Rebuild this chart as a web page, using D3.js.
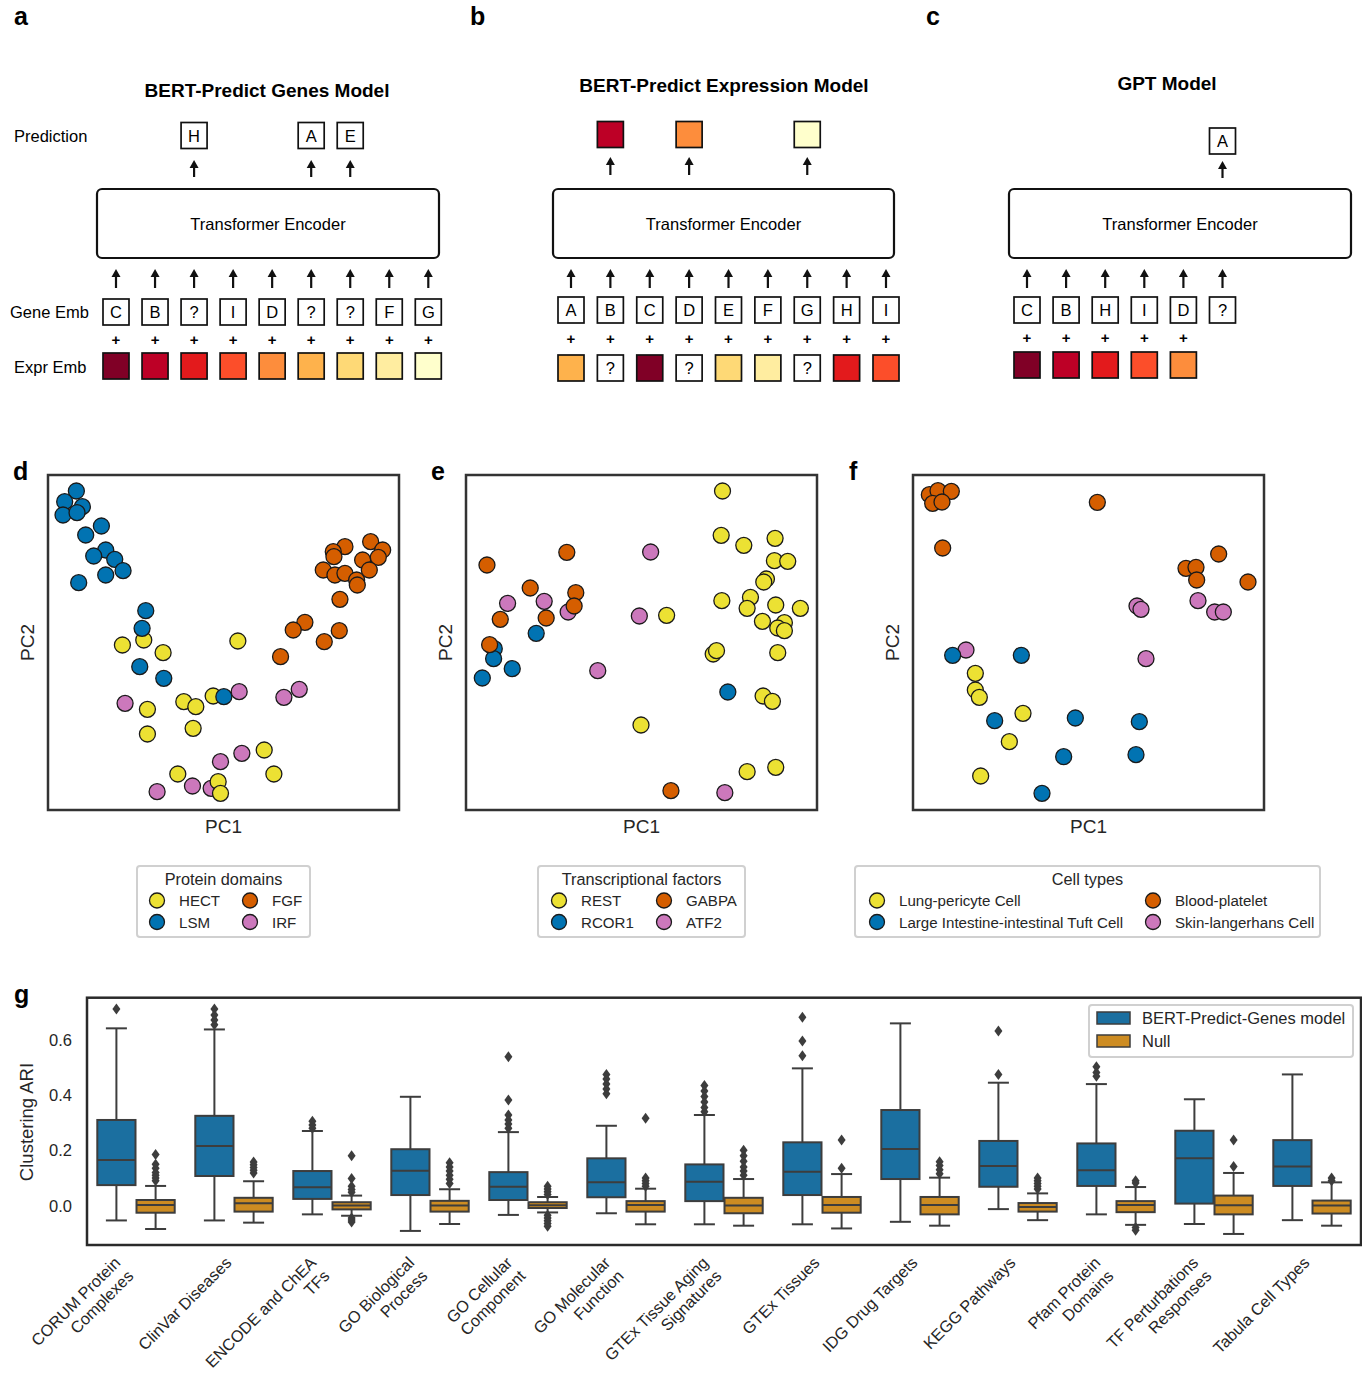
<!DOCTYPE html>
<html>
<head>
<meta charset="utf-8">
<script src="https://cdn.jsdelivr.net/npm/d3@7"></script>
<style>
  body { margin: 0; background: #fff; }
  text { font-family: "Liberation Sans", Arial, Helvetica, sans-serif; }
</style>
</head>
<body>
<script>
// ---------- panels a-c : model schematics ----------
const genesA = ['C', 'B', '?', 'I', 'D', '?', '?', 'F', 'G'];
const exprA = ['#800026', '#bd0026', '#e31a1c', '#fc4e2a', '#fd8d3c', '#feb24c', '#fed976', '#ffeda0', '#ffffcc'];
const predPosA = [2, 5, 6];
const predA = ['H', 'A', 'E'];

const genesB = ['A', 'B', 'C', 'D', 'E', 'F', 'G', 'H', 'I'];
const exprB = ['#feb24c', '?', '#800026', '?', '#fed976', '#ffeda0', '?', '#e31a1c', '#fc4e2a'];
const predPosB = [1, 3, 6];
const predB = ['#bd0026', '#fd8d3c', '#ffffcc'];

const genesC = ['C', 'B', 'H', 'I', 'D', '?'];
const exprC = ['#800026', '#bd0026', '#e31a1c', '#fc4e2a', '#fd8d3c'];
const predPosC = [5];
const predC = ['A'];

// ---------- panels d-f : PCA scatter (arbitrary PC units) ----------
const dHECT = [[22.3,49.5],[28.7,51.0],[34.5,47.2],[56.9,50.7],[29.8,30.2],[40.7,32.5],[44.3,31.0],[49.5,34.2],[43.5,24.5],[29.8,22.8],[38.9,10.8],[51.0,8.5],[51.7,5.0],[64.8,18.0],[67.7,10.8]];
const dLSM = [[8.5,95.7],[5.0,92.5],[10.3,91.0],[4.5,88.5],[8.7,89.2],[16.0,85.2],[11.3,82.5],[17.3,78.0],[13.7,76.2],[20.0,75.2],[22.5,71.8],[17.3,70.5],[9.2,68.2],[29.3,59.8],[28.2,54.5],[27.5,43.0],[34.7,39.5],[52.7,34.0]];
const dFGF = [[96.7,80.5],[89.0,79.0],[100.3,78.0],[85.5,77.5],[85.7,76.0],[94.3,75.0],[99.0,75.8],[82.5,72.0],[86.0,70.5],[89.0,71.0],[92.5,69.0],[92.7,67.5],[96.3,72.0],[87.5,63.2],[77.0,56.3],[73.5,54.0],[87.3,53.8],[82.8,50.5],[69.7,46.0]];
const dIRF = [[23.1,32.0],[57.3,35.5],[70.7,33.8],[75.3,36.2],[32.7,5.5],[43.3,7.2],[48.9,6.5],[51.7,14.5],[58.1,17.0]];

const eREST = [[77.1,95.7],[76.7,82.4],[83.5,79.4],[92.9,81.5],[92.7,74.8],[96.7,74.6],[90.3,69.3],[89.5,68.4],[76.9,62.8],[85.5,63.8],[84.5,60.5],[93.1,61.5],[100.5,60.5],[89.1,56.6],[95.7,56.2],[93.7,54.6],[95.7,53.8],[60.3,58.4],[74.3,46.8],[75.3,47.8],[93.7,47.2],[89.3,34.2],[92.1,32.6],[52.6,25.5],[84.5,11.5],[93.1,12.8]];
const eRCOR1 = [[8.5,48.4],[8.3,45.4],[13.9,42.4],[4.9,39.6],[21.1,53.0],[78.7,35.4]];
const eGABPA = [[6.3,73.5],[30.3,77.3],[19.3,66.6],[33.0,65.2],[32.5,61.2],[10.3,57.2],[24.1,57.6],[7.1,49.6],[61.6,5.8]];
const eATF2 = [[12.5,62.0],[23.5,62.6],[30.7,59.4],[55.5,77.4],[52.1,58.2],[39.6,41.8],[77.8,5.2]];

const fLung = [[18.7,41.0],[18.7,36.0],[19.9,33.8],[33.0,29.0],[28.9,20.5],[20.3,10.2]];
const fTuft = [[11.9,46.4],[32.5,46.4],[24.5,26.8],[48.7,27.6],[67.9,26.5],[45.2,16.0],[66.9,16.6],[38.7,5.0]];
const fPlatelet = [[4.9,94.6],[7.5,95.8],[11.5,95.6],[5.9,92.0],[8.7,92.4],[8.9,78.6],[55.3,92.3],[91.7,76.8],[81.9,72.5],[84.9,72.8],[85.1,69.0],[100.5,68.4]];
const fLangerhans = [[67.2,61.2],[68.4,60.2],[85.5,62.8],[90.5,59.4],[93.1,59.4],[15.9,48.0],[69.9,45.4]];

const legendD = ['HECT', 'LSM', 'FGF', 'IRF'];
const legendE = ['REST', 'RCOR1', 'GABPA', 'ATF2'];
const legendF = ['Lung-pericyte Cell', 'Large Intestine-intestinal Tuft Cell', 'Blood-platelet', 'Skin-langerhans Cell'];
const pcColors = ['#ece133', '#0173b2', '#d55e00', '#cc78bc'];

// ---------- panel g : clustering ARI boxplots ----------
const categories = ['CORUM Protein\nComplexes', 'ClinVar Diseases', 'ENCODE and ChEA\nTFs', 'GO Biological\nProcess',
  'GO Cellular\nComponent', 'GO Molecular\nFunction', 'GTEx Tissue Aging\nSignatures', 'GTEx Tissues',
  'IDG Drug Targets', 'KEGG Pathways', 'Pfam Protein\nDomains', 'TF Perturbations\nResponses', 'Tabula Cell Types'];
// [whisker low, q1, median, q3, whisker high]
const modelStats = [
  [-0.054, 0.074, 0.165, 0.310, 0.642],
  [-0.054, 0.107, 0.216, 0.325, 0.638],
  [-0.032, 0.024, 0.066, 0.125, 0.270],
  [-0.092, 0.038, 0.126, 0.204, 0.394],
  [-0.034, 0.020, 0.068, 0.121, 0.266],
  [-0.028, 0.030, 0.084, 0.171, 0.289],
  [-0.068, 0.016, 0.086, 0.149, 0.328],
  [-0.068, 0.038, 0.122, 0.229, 0.497],
  [-0.059, 0.096, 0.205, 0.346, 0.660],
  [-0.013, 0.068, 0.143, 0.234, 0.445],
  [-0.032, 0.071, 0.128, 0.225, 0.440],
  [-0.067, 0.007, 0.171, 0.271, 0.385],
  [-0.053, 0.071, 0.141, 0.237, 0.475]
];
const nullStats = [
  [-0.085, -0.026, 0.002, 0.020, 0.071],
  [-0.062, -0.022, 0.008, 0.028, 0.088],
  [-0.037, -0.014, 0.000, 0.012, 0.036],
  [-0.067, -0.022, 0.000, 0.017, 0.059],
  [-0.025, -0.009, 0.001, 0.012, 0.031],
  [-0.068, -0.022, 0.002, 0.016, 0.061],
  [-0.073, -0.028, 0.000, 0.028, 0.096],
  [-0.083, -0.026, 0.002, 0.031, 0.114],
  [-0.073, -0.032, 0.002, 0.031, 0.101],
  [-0.053, -0.022, -0.005, 0.009, 0.044],
  [-0.070, -0.024, 0.002, 0.016, 0.067],
  [-0.103, -0.032, 0.001, 0.036, 0.118],
  [-0.073, -0.029, 0.000, 0.018, 0.084]
];
const modelOutliers = [
  [0.712],
  [0.712, 0.690, 0.672, 0.655],
  [0.305, 0.292, 0.280],
  [],
  [0.539, 0.382, 0.328, 0.310, 0.295, 0.280],
  [0.475, 0.458, 0.440, 0.422, 0.405],
  [0.435, 0.415, 0.395, 0.375, 0.355, 0.340],
  [0.682, 0.596, 0.543],
  [],
  [0.632, 0.475],
  [0.503, 0.482, 0.468],
  [],
  []
];
const nullOutliers = [
  [0.185, 0.150, 0.135, 0.120, 0.110, 0.100, 0.090],
  [0.158, 0.148, 0.138, 0.128, 0.118],
  [0.180, 0.098, 0.070, 0.058, 0.048, -0.045, -0.052, -0.060],
  [0.155, 0.140, 0.125, 0.110, 0.095, 0.080],
  [0.070, 0.060, 0.050, 0.040, -0.035, -0.045, -0.055, -0.065, -0.075],
  [0.316, 0.100, 0.090, 0.080, 0.070],
  [0.200, 0.180, 0.160, 0.140, 0.125, 0.110],
  [0.237, 0.135],
  [0.159, 0.145, 0.130, 0.115],
  [0.100, 0.090, 0.080, 0.070, 0.060],
  [0.090, 0.082, -0.080, -0.090],
  [0.237, 0.141],
  [0.100, 0.090]
];
const yTicks = [0.0, 0.2, 0.4, 0.6];
const hueNames = ['BERT-Predict-Genes model', 'Null'];
const hueColors = ['#1b6fa0', '#cd8c22'];

const svg = d3.select('body').append('svg')
  .attr('width', 1362)
  .attr('height', 1375);

// panel letters
[['a', 14, 25], ['b', 470, 25], ['c', 926, 25], ['d', 13, 480], ['e', 431, 480], ['f', 849, 480], ['g', 14, 1003]]
  .forEach(function(p) {
    svg.append('text').text(p[0]).attr('x', p[1]).attr('y', p[2])
      .attr('font-size', 25).attr('font-weight', 'bold');
  });

function arrow(g, x, yTop, yBot) {
  g.append('line').attr('x1', x).attr('x2', x).attr('y1', yTop + 6).attr('y2', yBot)
    .attr('stroke', '#111').attr('stroke-width', 2.2);
  g.append('path')
    .attr('d', 'M' + x + ',' + yTop + ' L' + (x - 4.5) + ',' + (yTop + 8) + ' L' + (x + 4.5) + ',' + (yTop + 8) + ' Z')
    .attr('fill', '#111');
}

function tokenBox(g, cx, y, size, fill, label) {
  g.append('rect').attr('x', cx - size / 2).attr('y', y).attr('width', size).attr('height', size)
    .attr('fill', fill).attr('stroke', '#111').attr('stroke-width', 1.7);
  if (label) {
    g.append('text').text(label).attr('x', cx).attr('y', y + size / 2 + 6)
      .attr('text-anchor', 'middle').attr('font-size', 16.5);
  }
}

// layout: x scale over token index, plus vertical positions
function drawSchema(opt) {
  const g = svg.append('g');
  const x = d3.scaleLinear().domain([0, opt.n - 1]).range(opt.xr);
  const sz = 26;
  g.append('text').text(opt.title).attr('x', opt.titleX).attr('y', opt.titleY)
    .attr('text-anchor', 'middle').attr('font-size', 19).attr('font-weight', 'bold');
  g.append('rect').attr('x', opt.enc[0]).attr('y', 189).attr('width', opt.enc[1] - opt.enc[0]).attr('height', 69)
    .attr('rx', 5).attr('fill', 'none').attr('stroke', '#111').attr('stroke-width', 2.2);
  g.append('text').text('Transformer Encoder').attr('x', (opt.enc[0] + opt.enc[1]) / 2).attr('y', 230)
    .attr('text-anchor', 'middle').attr('font-size', 16.5);
  opt.genes.forEach(function(t, i) {
    arrow(g, x(i), 269, 288);
    tokenBox(g, x(i), opt.geneY, sz, '#fff', t);
  });
  opt.expr.forEach(function(c, i) {
    g.append('text').text('+').attr('x', x(i)).attr('y', opt.plusY + 5)
      .attr('text-anchor', 'middle').attr('font-size', 15).attr('font-weight', 'bold');
    if (c === '?') tokenBox(g, x(i), opt.exprY, sz, '#fff', '?');
    else tokenBox(g, x(i), opt.exprY, sz, c, null);
  });
  opt.predPos.forEach(function(p, k) {
    const v = opt.pred[k];
    arrow(g, x(p), opt.arrowTop[0], opt.arrowTop[1]);
    if (v.charAt(0) === '#') tokenBox(g, x(p), opt.predY, sz, v, null);
    else tokenBox(g, x(p), opt.predY, sz, '#fff', v);
  });
}

drawSchema({ n: 9, xr: [116, 428.3], genes: genesA, expr: exprA, predPos: predPosA, pred: predA,
  title: 'BERT-Predict Genes Model', titleX: 267, titleY: 97, enc: [97, 439],
  geneY: 299, plusY: 340, exprY: 353, predY: 122.5, arrowTop: [160, 177] });
drawSchema({ n: 9, xr: [571, 886], genes: genesB, expr: exprB, predPos: predPosB, pred: predB,
  title: 'BERT-Predict Expression Model', titleX: 724, titleY: 92, enc: [553, 894],
  geneY: 297, plusY: 339, exprY: 355, predY: 121.5, arrowTop: [157, 175] });
drawSchema({ n: 6, xr: [1027, 1222.5], genes: genesC, expr: exprC, predPos: predPosC, pred: predC,
  title: 'GPT Model', titleX: 1167, titleY: 90, enc: [1009, 1351],
  geneY: 297, plusY: 338, exprY: 352, predY: 128, arrowTop: [161, 178] });

[['Prediction', 14, 142], ['Gene Emb', 10, 318], ['Expr Emb', 14, 373]].forEach(function(r) {
  svg.append('text').text(r[0]).attr('x', r[1]).attr('y', r[2]).attr('font-size', 16.5);
});

// ---------- scatter panels ----------
function drawScatter(left, xDom, yDom, series) {
  const top = 475, w = 351, h = 335;
  const g = svg.append('g');
  const x = d3.scaleLinear().domain(xDom).range([left, left + w]);
  const y = d3.scaleLinear().domain(yDom).range([top + h, top]);
  // draw order: pink, yellow, blue, orange
  [3, 0, 1, 2].forEach(function(k) {
    g.selectAll(null).data(series[k]).enter().append('circle')
      .attr('cx', function(d) { return x(d[0]); })
      .attr('cy', function(d) { return y(d[1]); })
      .attr('r', 8)
      .attr('fill', pcColors[k])
      .attr('stroke', '#1a1a1a').attr('stroke-width', 1.3);
  });
  g.append('rect').attr('x', left).attr('y', top).attr('width', w).attr('height', h)
    .attr('fill', 'none').attr('stroke', '#333').attr('stroke-width', 2.5);
  g.append('text').text('PC1').attr('x', left + w / 2).attr('y', 833)
    .attr('text-anchor', 'middle').attr('font-size', 19).attr('fill', '#262626');
  g.append('text').text('PC2').attr('transform', 'translate(' + (left - 14) + ',' + (top + h / 2) + ') rotate(-90)')
    .attr('text-anchor', 'middle').attr('font-size', 19).attr('fill', '#262626');
}

drawScatter(48, [0, 105.2], [0, 100.5], [dHECT, dLSM, dFGF, dIRF]);
drawScatter(466, [0, 105.5], [0, 100.5], [eREST, eRCOR1, eGABPA, eATF2]);
drawScatter(913, [0, 105.3], [0, 100.5], [fLung, fTuft, fPlatelet, fLangerhans]);

function scatterLegend(x0, x1, title, names, colX) {
  const g = svg.append('g');
  g.append('rect').attr('x', x0).attr('y', 866).attr('width', x1 - x0).attr('height', 71)
    .attr('rx', 3).attr('fill', '#fff').attr('stroke', '#d0d0d0').attr('stroke-width', 2);
  g.append('text').text(title).attr('x', (x0 + x1) / 2).attr('y', 885)
    .attr('text-anchor', 'middle').attr('font-size', 16.3).attr('fill', '#262626');
  names.forEach(function(n, i) {
    const cx = colX[Math.floor(i / 2)];
    const cy = i % 2 === 0 ? 900.5 : 922;
    g.append('circle').attr('cx', cx).attr('cy', cy).attr('r', 7.5)
      .attr('fill', pcColors[i]).attr('stroke', '#1a1a1a').attr('stroke-width', 1.3);
    g.append('text').text(n).attr('x', cx + 22).attr('y', cy + 5.5)
      .attr('font-size', 15.1).attr('fill', '#262626');
  });
}
scatterLegend(137, 310, 'Protein domains', legendD, [157, 250]);
scatterLegend(538, 745, 'Transcriptional factors', legendE, [559, 664]);
scatterLegend(855, 1320, 'Cell types', legendF, [877, 1153]);

// ---------- panel g ----------
const gx = d3.scaleBand().domain(categories).range([87, 1361]).padding(0);
const gy = d3.scaleLinear().domain([-0.143, 0.753]).range([1245, 997.7]);
const bw = gx.bandwidth();
const boxW = bw * 0.4 - 1;
const lineCol = '#3d3d3d';
const gG = svg.append('g');

function drawBox(cx, s, fill, outs) {
  const capW = boxW * 0.55;
  gG.append('line').attr('x1', cx).attr('x2', cx).attr('y1', gy(s[0])).attr('y2', gy(s[1]))
    .attr('stroke', lineCol).attr('stroke-width', 2);
  gG.append('line').attr('x1', cx).attr('x2', cx).attr('y1', gy(s[3])).attr('y2', gy(s[4]))
    .attr('stroke', lineCol).attr('stroke-width', 2);
  [s[0], s[4]].forEach(function(v) {
    gG.append('line').attr('x1', cx - capW / 2).attr('x2', cx + capW / 2).attr('y1', gy(v)).attr('y2', gy(v))
      .attr('stroke', lineCol).attr('stroke-width', 2);
  });
  gG.append('rect').attr('x', cx - boxW / 2).attr('y', gy(s[3])).attr('width', boxW)
    .attr('height', gy(s[1]) - gy(s[3])).attr('fill', fill).attr('stroke', lineCol).attr('stroke-width', 2);
  gG.append('line').attr('x1', cx - boxW / 2).attr('x2', cx + boxW / 2).attr('y1', gy(s[2])).attr('y2', gy(s[2]))
    .attr('stroke', lineCol).attr('stroke-width', 2);
  gG.selectAll(null).data(outs).enter().append('path')
    .attr('d', function(v) {
      const yy = gy(v);
      return 'M' + cx + ',' + (yy - 5.5) + ' L' + (cx + 4) + ',' + yy + ' L' + cx + ',' + (yy + 5.5) + ' L' + (cx - 4) + ',' + yy + ' Z';
    })
    .attr('fill', lineCol);
}

categories.forEach(function(c, i) {
  const mid = gx(c) + bw / 2;
  drawBox(mid - bw * 0.2, modelStats[i], hueColors[0], modelOutliers[i]);
  drawBox(mid + bw * 0.2, nullStats[i], hueColors[1], nullOutliers[i]);
});

gG.append('rect').attr('x', 87).attr('y', 997.7).attr('width', 1274).attr('height', 1245 - 997.7)
  .attr('fill', 'none').attr('stroke', '#2a2a2a').attr('stroke-width', 2.5);

yTicks.forEach(function(t) {
  gG.append('text').text(t.toFixed(1)).attr('x', 72).attr('y', gy(t) + 6)
    .attr('text-anchor', 'end').attr('font-size', 16.5).attr('fill', '#262626');
});
gG.append('text').text('Clustering ARI').attr('transform', 'translate(33,1122) rotate(-90)')
  .attr('text-anchor', 'middle').attr('font-size', 18.5).attr('fill', '#262626');

// rotated category labels, top-right corner anchored under each category
categories.forEach(function(c) {
  const lines = c.split('\n');
  const fs = 16.3;
  const h = lines.length * fs * 1.15;
  const cx = gx(c) + bw / 2;
  const t = gG.append('text')
    .attr('transform', 'translate(' + (cx - 0.707 * h + 2) + ',1254) rotate(-45)')
    .attr('text-anchor', 'end').attr('font-size', fs).attr('fill', '#262626');
  lines.forEach(function(l, k) {
    t.append('tspan').text(l).attr('x', 0).attr('y', fs * 0.85 + k * fs * 1.15);
  });
});

// legend for g
const lg = gG.append('g');
lg.append('rect').attr('x', 1089).attr('y', 1005).attr('width', 264).attr('height', 52)
  .attr('rx', 3).attr('fill', '#fff').attr('stroke', '#d0d0d0').attr('stroke-width', 2);
hueNames.forEach(function(n, i) {
  const cy = 1018 + i * 23;
  lg.append('rect').attr('x', 1097).attr('y', cy - 6).attr('width', 33).attr('height', 12)
    .attr('fill', hueColors[i]).attr('stroke', lineCol).attr('stroke-width', 1.5);
  lg.append('text').text(n).attr('x', 1142).attr('y', cy + 6)
    .attr('font-size', 16.5).attr('fill', '#262626');
});
</script>
</body>
</html>
